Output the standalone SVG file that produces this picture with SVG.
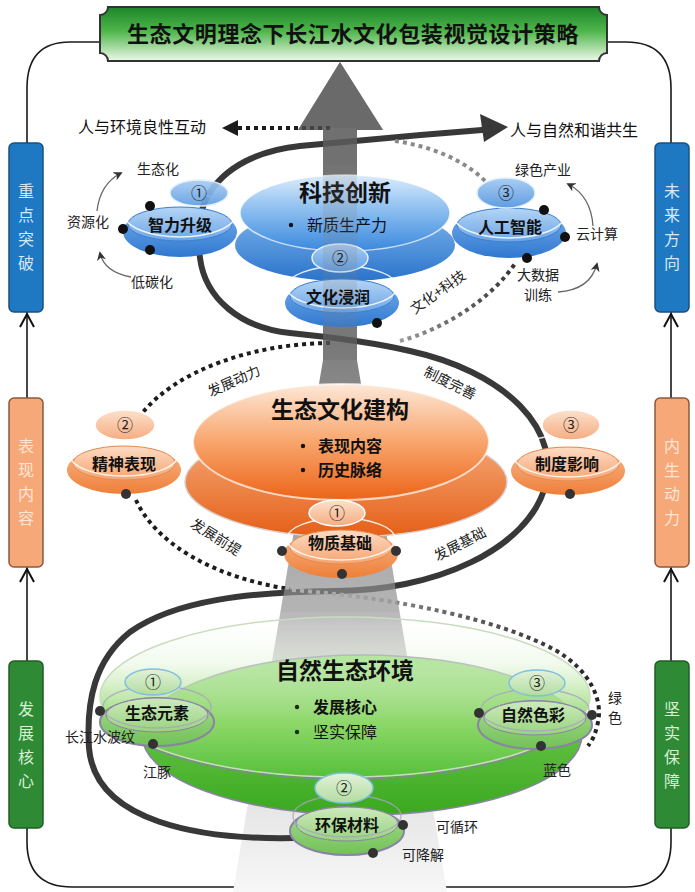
<svg xmlns="http://www.w3.org/2000/svg" width="695" height="892" viewBox="0 0 695 892">
<defs>
  <linearGradient id="gTitle" x1="0" y1="0" x2="0" y2="1">
    <stop offset="0" stop-color="#1c8529"/><stop offset="0.45" stop-color="#4fb64b"/><stop offset="1" stop-color="#eef9ea"/>
  </linearGradient>
  <linearGradient id="gCone" gradientUnits="userSpaceOnUse" x1="0" y1="60" x2="0" y2="892">
    <stop offset="0" stop-color="#676767"/><stop offset="0.33" stop-color="#7d7d7d"/><stop offset="0.6" stop-color="#ababab"/><stop offset="0.8" stop-color="#d6d6d6"/><stop offset="1" stop-color="#f7f7f7"/>
  </linearGradient>
  <linearGradient id="bBig1" x1="0" y1="0" x2="0" y2="1"><stop offset="0" stop-color="#dcecfc"/><stop offset="0.45" stop-color="#8dbff0"/><stop offset="1" stop-color="#3a88de"/></linearGradient>
  <linearGradient id="bBig2" x1="0" y1="0" x2="0" y2="1"><stop offset="0" stop-color="#7fb5ec"/><stop offset="1" stop-color="#2a74cc"/></linearGradient>
  <linearGradient id="bBase" x1="0" y1="0" x2="0" y2="1"><stop offset="0" stop-color="#7ab0ec"/><stop offset="1" stop-color="#2f78d0"/></linearGradient>
  <linearGradient id="bFace" x1="0" y1="0" x2="0" y2="1"><stop offset="0" stop-color="#b5d5f5"/><stop offset="1" stop-color="#6aa4e6"/></linearGradient>
  <linearGradient id="bNum" x1="0" y1="0" x2="0" y2="1"><stop offset="0" stop-color="#a9cdf3"/><stop offset="1" stop-color="#5f9de2"/></linearGradient>
  <linearGradient id="oBig1" x1="0" y1="0" x2="0" y2="1"><stop offset="0" stop-color="#fde8d8"/><stop offset="0.5" stop-color="#f8a56c"/><stop offset="1" stop-color="#ec6418"/></linearGradient>
  <linearGradient id="oBig2" x1="0" y1="0" x2="0" y2="1"><stop offset="0" stop-color="#f7b183"/><stop offset="1" stop-color="#e55f17"/></linearGradient>
  <linearGradient id="oBase" x1="0" y1="0" x2="0" y2="1"><stop offset="0" stop-color="#f8b98f"/><stop offset="1" stop-color="#ee7f38"/></linearGradient>
  <linearGradient id="oFace" x1="0" y1="0" x2="0" y2="1"><stop offset="0" stop-color="#fddcc5"/><stop offset="1" stop-color="#f6a470"/></linearGradient>
  <linearGradient id="oNum" x1="0" y1="0" x2="0" y2="1"><stop offset="0" stop-color="#fde0cc"/><stop offset="1" stop-color="#f5ad80"/></linearGradient>
  <linearGradient id="gBig1" x1="0" y1="0" x2="0" y2="1"><stop offset="0" stop-color="#ffffff" stop-opacity="0.1"/><stop offset="0.3" stop-color="#e4f4da" stop-opacity="0.55"/><stop offset="0.65" stop-color="#8fd86b"/><stop offset="1" stop-color="#57c13a"/></linearGradient>
  <linearGradient id="gBig2" x1="0" y1="0" x2="0" y2="1"><stop offset="0" stop-color="#86d964"/><stop offset="1" stop-color="#3aa81f"/></linearGradient>
  <linearGradient id="gBase" x1="0" y1="0" x2="0" y2="1"><stop offset="0" stop-color="#a8da92"/><stop offset="1" stop-color="#72c257"/></linearGradient>
  <linearGradient id="gFace" x1="0" y1="0" x2="0" y2="1"><stop offset="0" stop-color="#cdeabd"/><stop offset="1" stop-color="#98d37e"/></linearGradient>
  <linearGradient id="gNum" x1="0" y1="0" x2="0" y2="1"><stop offset="0" stop-color="#e2f2da"/><stop offset="1" stop-color="#b3dca0"/></linearGradient>
  <linearGradient id="dotG" gradientUnits="userSpaceOnUse" x1="290" y1="0" x2="600" y2="0"><stop offset="0" stop-color="#b0b0b0"/><stop offset="1" stop-color="#222"/></linearGradient>
  <linearGradient id="dotW" gradientUnits="userSpaceOnUse" x1="400" y1="0" x2="516" y2="0"><stop offset="0" stop-color="#9a9a9a"/><stop offset="1" stop-color="#333"/></linearGradient>
  <marker id="ah" viewBox="0 0 10 10" refX="8" refY="5" markerWidth="7" markerHeight="7" orient="auto"><path d="M0,0 L10,5 L0,10 L3,5 Z" fill="#333"/></marker>
</defs>
<style>
  text{font-family:"Noto Sans CJK SC","Noto Sans",sans-serif;}
  .num{font-size:16px;text-anchor:middle;fill:#222;}
  .nl{font-size:16px;font-weight:bold;text-anchor:middle;fill:#111;}
  .lbl{font-size:14px;text-anchor:middle;fill:#222;}
  .big{font-size:23px;font-weight:bold;text-anchor:middle;fill:#111;}
  .bul{font-size:16px;fill:#111;}
  .side{font-size:16px;text-anchor:middle;}
  .frame{fill:none;stroke:#1a1a1a;stroke-width:1.6;}
  .chev{fill:none;stroke:#111;stroke-width:2;}
  .dotB{fill:none;stroke:#1c1c1c;stroke-width:4;stroke-dasharray:4 4;}
  .dotGr{fill:none;stroke:#8a8a8a;stroke-width:4;stroke-dasharray:4 4;}
  .small{fill:none;stroke:#666;stroke-width:1.3;marker-end:url(#ah);}
  .ring{fill:none;stroke:#fff;stroke-width:1.5;opacity:0.85;}
</style>
<rect width="695" height="892" fill="#fff"/>

<!-- outer frame -->
<g id="frame">
  <path class="frame" d="M 100 42 L 70 42 Q 27 42 27 88 L 27 842 Q 27 887 72 887 L 626 887 Q 671 887 671 842 L 671 88 Q 671 42 626 42 L 607 42"/>
  <path class="chev" d="M 20 327 L 27 314 L 34 327"/>
  <path class="chev" d="M 20 582 L 27 569 L 34 582"/>
  <path class="chev" d="M 664 327 L 671 314 L 678 327"/>
  <path class="chev" d="M 664 582 L 671 569 L 678 582"/>
</g>

<g id="side-zhongdian">
  <rect x="9" y="143" width="34" height="169" rx="5" fill="#1f78c2" stroke="#18507f" stroke-width="1.5"/>
  <text class="side" fill="#d6e8f8" x="26" y="197">重</text><text class="side" fill="#d6e8f8" x="26" y="221">点</text><text class="side" fill="#d6e8f8" x="26" y="245">突</text><text class="side" fill="#d6e8f8" x="26" y="269">破</text>
</g>
<g id="side-biaoxian">
  <rect x="9" y="398" width="34" height="169" rx="5" fill="#f6a878" stroke="#8b5a3c" stroke-width="1.5"/>
  <text class="side" fill="#fde6d6" x="26" y="452">表</text><text class="side" fill="#fde6d6" x="26" y="476">现</text><text class="side" fill="#fde6d6" x="26" y="500">内</text><text class="side" fill="#fde6d6" x="26" y="524">容</text>
</g>
<g id="side-fazhan">
  <rect x="9" y="661" width="34" height="167" rx="5" fill="#2f8a36" stroke="#1f5e24" stroke-width="1.5"/>
  <text class="side" fill="#d8f0d4" x="26" y="715">发</text><text class="side" fill="#d8f0d4" x="26" y="739">展</text><text class="side" fill="#d8f0d4" x="26" y="763">核</text><text class="side" fill="#d8f0d4" x="26" y="787">心</text>
</g>
<g id="side-weilai">
  <rect x="655" y="143" width="34" height="169" rx="5" fill="#1f78c2" stroke="#18507f" stroke-width="1.5"/>
  <text class="side" fill="#d6e8f8" x="672" y="197">未</text><text class="side" fill="#d6e8f8" x="672" y="221">来</text><text class="side" fill="#d6e8f8" x="672" y="245">方</text><text class="side" fill="#d6e8f8" x="672" y="269">向</text>
</g>
<g id="side-neisheng">
  <rect x="655" y="398" width="34" height="169" rx="5" fill="#f6a878" stroke="#8b5a3c" stroke-width="1.5"/>
  <text class="side" fill="#fde6d6" x="672" y="452">内</text><text class="side" fill="#fde6d6" x="672" y="476">生</text><text class="side" fill="#fde6d6" x="672" y="500">动</text><text class="side" fill="#fde6d6" x="672" y="524">力</text>
</g>
<g id="side-jianshi">
  <rect x="655" y="661" width="34" height="167" rx="5" fill="#2f8a36" stroke="#1f5e24" stroke-width="1.5"/>
  <text class="side" fill="#d8f0d4" x="672" y="715">坚</text><text class="side" fill="#d8f0d4" x="672" y="739">实</text><text class="side" fill="#d8f0d4" x="672" y="763">保</text><text class="side" fill="#d8f0d4" x="672" y="787">障</text>
</g>

<g id="title">
  <path d="M 108 7 L 599 7 A 8 8 0 0 0 607 15 L 607 53 A 8 8 0 0 0 599 61 L 108 61 A 8 8 0 0 0 100 53 L 100 15 A 8 8 0 0 0 108 7 Z" fill="url(#gTitle)" stroke="#333" stroke-width="2"/>
  <text x="353" y="42" font-size="22" font-weight="bold" text-anchor="middle" fill="#111" letter-spacing="0.6">生态文明理念下长江水文化包装视觉设计策略</text>
</g>

<!-- big gray arrow / cone (base layer) -->
<g id="cone">
  <polygon points="340,62 298,130 383,130" fill="#6a6a6a"/>
  <polygon points="323,128 357,128 357,360 447,892 233,892 323,360" fill="url(#gCone)"/>
</g>

<!-- green level big discs -->
<g id="node-ziran">
  <ellipse cx="362" cy="735" rx="220" ry="80" fill="url(#gBig2)" stroke="#8a83a3" stroke-width="1.5"/>
  <ellipse cx="345" cy="697" rx="245" ry="80" fill="url(#gBig1)" stroke="#c9dcc0" stroke-width="1.5"/>
  <path d="M 105 715 A 245 80 0 0 0 585 715" fill="none" stroke="#8a83a3" stroke-width="1.5" opacity="0.8"/>
  <text class="big" x="345" y="679">自然生态环境</text>
  <circle cx="297" cy="707" r="2.2" fill="#1b2e12"/>
  <text class="bul" x="313" y="713" font-weight="bold" fill="#1b2e12">发展核心</text>
  <circle cx="297" cy="732" r="2.2" fill="#1b2e12"/>
  <text class="bul" x="313" y="738" fill="#1b2e12">坚实保障</text>
</g>

<!-- connectors -->
<g id="connectors">
  <path d="M 295 838 C 200 840, 95 822, 89 748 C 86 700, 95 660, 130 632 C 175 600, 250 592, 335 591 A 213 124 0 0 0 410 351 C 380 344, 330 337, 290 333 C 240 328, 205 298, 200 258 C 197 232, 199 212, 207 197 C 225 165, 262 150, 300 146 C 340 142, 420 135, 482 130" fill="none" stroke="#383838" stroke-width="6" stroke-linecap="round"/>
  <polygon points="508,127 480,114 484,142" fill="#383838"/>
  <path class="dotB" d="M 330 128 L 238 128"/>
  <polygon points="222,128 238,120 238,136" fill="#1c1c1c"/>
  <path class="dotGr" d="M 395 141 C 430 146, 466 160, 488 184"/>
  <path class="dotGr" style="stroke:url(#dotW)" d="M 400 341 C 440 330, 490 302, 516 262"/>
  <path class="dotB" d="M 330 343 A 213 124 0 0 0 143 412"/>
  <path class="dotB" d="M 136 500 A 213 124 0 0 0 290 589"/>
  <path class="dotB" style="stroke:url(#dotG)" d="M 292 590 C 400 598, 500 620, 555 650 C 590 670, 603 700, 598 722 C 596 732, 593 740, 588 746"/>
  <path class="small" d="M 97 211 Q 100 184 121 173"/>
  <path class="small" d="M 131 277 Q 104 272 100 253"/>
  <path class="small" d="M 593 226 Q 591 196 568 184"/>
  <path class="small" d="M 558 292 Q 590 290 597 264"/>
</g>

<!-- translucent shaft overlay so crossing lines look muted -->
<g id="cone-overlay" opacity="0.5">
  <polygon points="340,62 298,130 383,130" fill="#6a6a6a"/>
  <rect x="323" y="128" width="34" height="232" fill="#747474"/>
  <polygon points="288,565 392,565 399,612 281,612" fill="#b0b0b0"/>
</g>

<!-- orange level -->
<g id="node-shengtai-wenhua">
  <ellipse cx="346" cy="482" rx="161" ry="55" fill="url(#oBig2)" stroke="#d8d0cc" stroke-width="1.5"/>
  <ellipse cx="341" cy="442" rx="148" ry="58" fill="url(#oBig1)" stroke="#fff" stroke-width="2" stroke-opacity="0.7"/>
  <text class="big" x="340" y="418" font-size="24">生态文化建构</text>
  <circle cx="303" cy="446" r="2.2" fill="#111"/>
  <text class="bul" x="318" y="452" font-weight="bold">表现内容</text>
  <circle cx="303" cy="470" r="2.2" fill="#111"/>
  <text class="bul" x="318" y="476" font-weight="bold">历史脉络</text>
</g>
<g id="node-jingshen">
  <ellipse cx="124" cy="470" rx="57" ry="24" fill="url(#oBase)"/>
  <ellipse cx="124" cy="463" rx="51" ry="17" fill="url(#oFace)" stroke="#e58a50" stroke-width="1"/>
  <ellipse class="ring" cx="124" cy="455" rx="54" ry="21"/>
  <ellipse cx="125" cy="425" rx="30" ry="15" fill="url(#oNum)" stroke="#fff" stroke-width="1.5"/>
  <text class="num" x="125" y="431">②</text>
  <text class="nl" x="124" y="470">精神表现</text>
  <circle cx="126" cy="494" r="5" fill="#333"/>
</g>
<g id="node-zhidu">
  <ellipse cx="568" cy="471" rx="57" ry="24" fill="url(#oBase)"/>
  <ellipse cx="568" cy="464" rx="51" ry="17" fill="url(#oFace)" stroke="#e58a50" stroke-width="1"/>
  <ellipse class="ring" cx="568" cy="456" rx="54" ry="21"/>
  <ellipse cx="571" cy="425" rx="29" ry="15" fill="url(#oNum)" stroke="#fff" stroke-width="1.5"/>
  <text class="num" x="571" y="431">③</text>
  <text class="nl" x="567" y="470">制度影响</text>
  <circle cx="570" cy="494" r="5" fill="#333"/>
</g>
<g id="node-wuzhi">
  <ellipse cx="341" cy="554" rx="57" ry="24" fill="url(#oBase)"/>
  <ellipse cx="341" cy="547" rx="51" ry="17" fill="url(#oFace)" stroke="#e58a50" stroke-width="1"/>
  <ellipse class="ring" cx="341" cy="539" rx="54" ry="21"/>
  <ellipse cx="337" cy="513" rx="28" ry="13" fill="url(#oNum)" stroke="#fff" stroke-width="1.5"/>
  <text class="num" x="337" y="519">①</text>
  <text class="nl" x="340" y="549">物质基础</text>
  <circle cx="282" cy="551" r="5" fill="#333"/>
  <circle cx="396" cy="551" r="5" fill="#333"/>
  <circle cx="342" cy="574" r="5" fill="#333"/>
</g>

<!-- green small nodes -->
<g id="node-yuansu">
  <ellipse cx="157" cy="722" rx="57" ry="24" fill="url(#gBase)" stroke="#8a83a3" stroke-width="2"/>
  <ellipse cx="157" cy="715" rx="51" ry="17" fill="url(#gFace)" stroke="#8a83a3" stroke-width="1"/>
  <ellipse cx="157" cy="707" rx="54" ry="21" fill="none" stroke="#a9a2c0" stroke-width="1.3" opacity="0.8"/>
  <ellipse cx="153" cy="682" rx="28" ry="13" fill="url(#gNum)" stroke="#7fbfe0" stroke-width="1.5"/>
  <text class="num" x="153" y="688">①</text>
  <text class="nl" x="157" y="719">生态元素</text>
  <circle cx="100" cy="711" r="5" fill="#333"/>
  <circle cx="153" cy="744" r="5" fill="#333"/>
</g>
<g id="node-secai">
  <ellipse cx="535" cy="725" rx="57" ry="24" fill="url(#gBase)" stroke="#8a83a3" stroke-width="2"/>
  <ellipse cx="535" cy="718" rx="51" ry="17" fill="url(#gFace)" stroke="#8a83a3" stroke-width="1"/>
  <ellipse cx="535" cy="710" rx="54" ry="21" fill="none" stroke="#a9a2c0" stroke-width="1.3" opacity="0.8"/>
  <ellipse cx="537" cy="683" rx="28" ry="13" fill="url(#gNum)" stroke="#7fbfe0" stroke-width="1.5"/>
  <text class="num" x="537" y="689">③</text>
  <text class="nl" x="533" y="721">自然色彩</text>
  <circle cx="479" cy="713" r="5" fill="#333"/>
  <circle cx="592" cy="715" r="5" fill="#333"/>
  <circle cx="541" cy="746" r="5" fill="#333"/>
</g>
<g id="node-huanbao">
  <ellipse cx="347" cy="831" rx="57" ry="24" fill="url(#gBase)" stroke="#8a83a3" stroke-width="2"/>
  <ellipse cx="347" cy="824" rx="51" ry="17" fill="url(#gFace)" stroke="#8a83a3" stroke-width="1"/>
  <ellipse cx="347" cy="816" rx="54" ry="21" fill="none" stroke="#a9a2c0" stroke-width="1.3" opacity="0.8"/>
  <ellipse cx="344" cy="788" rx="29" ry="15" fill="url(#gNum)" stroke="#7fbfe0" stroke-width="1.5"/>
  <text class="num" x="344" y="794">②</text>
  <text class="nl" x="347" y="831">环保材料</text>
  <circle cx="403" cy="825" r="5" fill="#333"/>
  <circle cx="373" cy="853" r="5" fill="#333"/>
</g>

<!-- blue level -->
<g id="node-keji">
  <ellipse cx="345" cy="245" rx="110" ry="36" fill="url(#bBig2)"/>
  <ellipse cx="345" cy="213" rx="105" ry="38" fill="url(#bBig1)" stroke="#fff" stroke-width="1.5" stroke-opacity="0.7"/>
  <text class="big" x="345" y="201">科技创新</text>
  <circle cx="291" cy="225" r="2.2" fill="#111"/>
  <text class="bul" x="307" y="231">新质生产力</text>
</g>
<g id="node-zhili">
  <ellipse cx="180" cy="232" rx="57" ry="25" fill="url(#bBase)"/>
  <ellipse cx="180" cy="224" rx="52" ry="17" fill="url(#bFace)" stroke="#3b7fd0" stroke-width="1"/>
  <ellipse class="ring" cx="180" cy="215" rx="55" ry="22"/>
  <ellipse cx="199" cy="193" rx="29" ry="13" fill="url(#bNum)" stroke="#e3f0fc" stroke-width="1.5" opacity="0.92"/>
  <text class="num" x="199" y="199">①</text>
  <text class="nl" x="180" y="231">智力升级</text>
  <circle cx="150" cy="206" r="5" fill="#111"/>
  <circle cx="123" cy="229" r="5" fill="#111"/>
  <circle cx="150" cy="250" r="5" fill="#111"/>
</g>
<g id="node-rengong">
  <ellipse cx="509" cy="233" rx="57" ry="25" fill="url(#bBase)"/>
  <ellipse cx="509" cy="225" rx="52" ry="17" fill="url(#bFace)" stroke="#3b7fd0" stroke-width="1"/>
  <ellipse class="ring" cx="509" cy="216" rx="55" ry="22"/>
  <ellipse cx="506" cy="193" rx="29" ry="15" fill="url(#bNum)" stroke="#e3f0fc" stroke-width="1.5"/>
  <text class="num" x="506" y="199">③</text>
  <text class="nl" x="510" y="233">人工智能</text>
  <circle cx="544" cy="210" r="5" fill="#111"/>
  <circle cx="565" cy="237" r="5" fill="#111"/>
  <circle cx="527" cy="258" r="5" fill="#111"/>
</g>
<g id="node-wenhua">
  <ellipse cx="342" cy="303" rx="57" ry="24" fill="url(#bBase)"/>
  <ellipse cx="342" cy="296" rx="52" ry="17" fill="url(#bFace)" stroke="#3b7fd0" stroke-width="1"/>
  <ellipse class="ring" cx="342" cy="287" rx="55" ry="21"/>
  <ellipse cx="340" cy="258" rx="28" ry="14" fill="url(#bNum)" stroke="#e3f0fc" stroke-width="1.5"/>
  <rect x="323" y="165" width="34" height="163" fill="#808080" opacity="0.18"/>
  <text class="num" x="340" y="264">②</text>
  <text class="nl" x="338" y="303">文化浸润</text>
  <circle cx="377" cy="323" r="5" fill="#111"/>
</g>

<!-- labels (drawn last, in front) -->
<g id="labels">
  <text x="78" y="133" font-size="16" fill="#111">人与环境良性互动</text>
  <text x="510" y="136" font-size="16" fill="#111">人与自然和谐共生</text>
  <text class="lbl" x="158" y="174">生态化</text>
  <text class="lbl" x="88" y="227">资源化</text>
  <text class="lbl" x="152" y="287">低碳化</text>
  <text class="lbl" x="543" y="175">绿色产业</text>
  <text class="lbl" x="597" y="239">云计算</text>
  <text class="lbl" font-size="13.5" x="538" y="280">大数据</text>
  <text class="lbl" font-size="13.5" x="538" y="300">训练</text>
  <text class="lbl" font-size="15" transform="translate(438,292) rotate(-35)" y="5">文化+科技</text>
  <text class="lbl" font-size="15" transform="translate(234,381) rotate(-24)" y="5">发展动力</text>
  <text class="lbl" font-size="15" transform="translate(216,537) rotate(32)" y="5">发展前提</text>
  <text class="lbl" font-size="15" transform="translate(450,383) rotate(26)" y="5">制度完善</text>
  <text class="lbl" font-size="15" transform="translate(460,544) rotate(-27)" y="5">发展基础</text>
  <text class="lbl" font-size="15" x="100" y="742">长江水波纹</text>
  <text class="lbl" font-size="15" x="157" y="777">江豚</text>
  <text class="lbl" font-size="15" x="557" y="775">蓝色</text>
  <text class="lbl" font-size="15" x="615" y="703">绿</text>
  <text class="lbl" font-size="15" x="615" y="723">色</text>
  <text class="lbl" font-size="15" x="457" y="832">可循环</text>
  <text class="lbl" font-size="15" x="423" y="860">可降解</text>
</g>
</svg>
